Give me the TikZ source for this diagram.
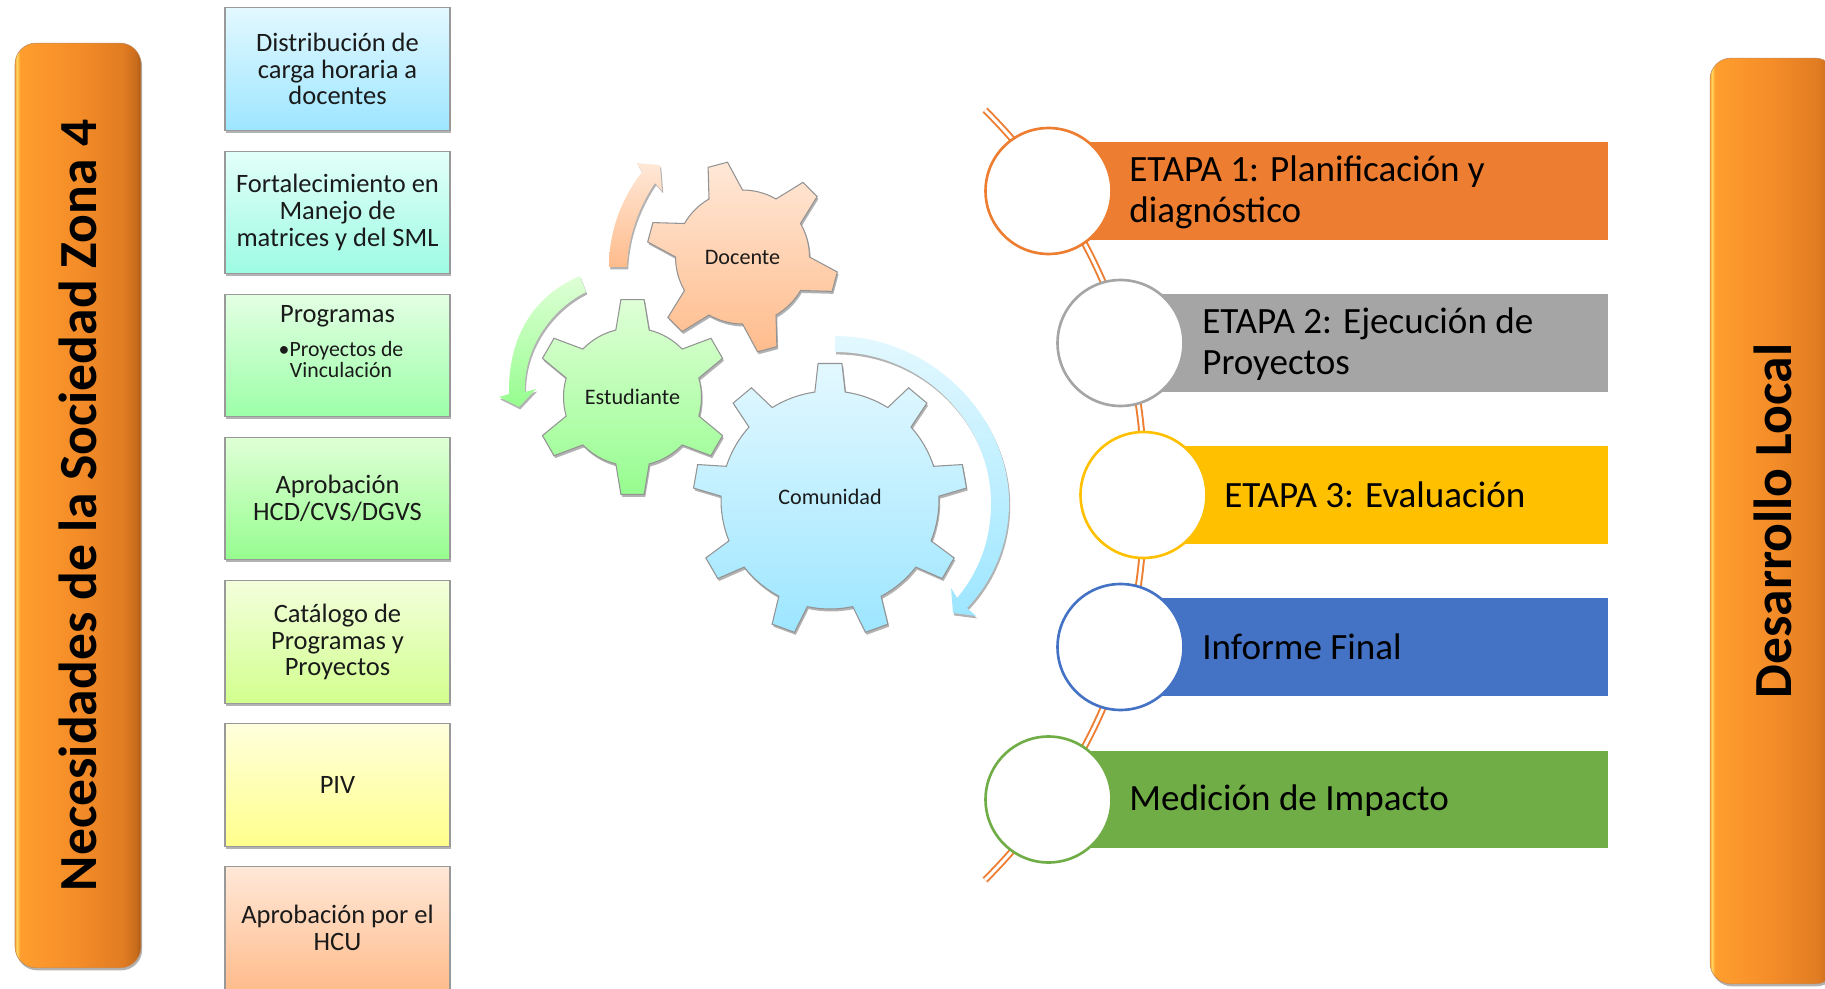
\documentclass[tikz,border=0pt]{standalone}
\usepackage{fontspec}
\setmainfont{Carlito}
\usetikzlibrary{shadows}
\definecolor{textonegro}{HTML}{1A1A1A}
\definecolor{lineanaranja}{HTML}{ED7D31}
\definecolor{etapagris}{HTML}{A5A5A5}
\definecolor{etapaoro}{HTML}{FFC000}
\definecolor{etapaazul}{HTML}{4472C4}
\definecolor{etapaverde}{HTML}{70AD47}
\definecolor{celesteA}{HTML}{E3F8FF}
\definecolor{celesteB}{HTML}{9DE6FF}
\definecolor{aguaA}{HTML}{E3FFF9}
\definecolor{aguaB}{HTML}{9DFBE3}
\definecolor{verdeA}{HTML}{E3FFE3}
\definecolor{verdeB}{HTML}{9CFFA8}
\definecolor{pastoA}{HTML}{DFFFD6}
\definecolor{pastoB}{HTML}{96FD8F}
\definecolor{limaA}{HTML}{F3FFDC}
\definecolor{limaB}{HTML}{D2FF8E}
\definecolor{amarilloA}{HTML}{FFFFDC}
\definecolor{amarilloB}{HTML}{FFFF8C}
\definecolor{duraznoA}{HTML}{FFE8D8}
\definecolor{duraznoB}{HTML}{FFBC8C}
\definecolor{narA}{HTML}{FFD860}
\definecolor{narB}{HTML}{FF9E2E}
\definecolor{narC}{HTML}{F48C28}
\definecolor{narD}{HTML}{E07C22}
\definecolor{narE}{HTML}{C96C1C}
\definecolor{narF}{HTML}{A85A18}
\pgfdeclarehorizontalshading{barranaranja}{100bp}{
  color(0bp)=(narB);
  color(25bp)=(narB);
  color(25.7bp)=(narA);
  color(27bp)=(narB);
  color(50bp)=(narC);
  color(68bp)=(narD);
  color(73bp)=(narE);
  color(75bp)=(narF);
  color(100bp)=(narF)
}
\tikzset{
  sombra/.style={drop shadow={shadow xshift=0.7pt,shadow yshift=-1.4pt,opacity=0.3,fill=black}},
  pasobox/.style={rectangle,draw=gray!80,line width=0.6pt,sombra,minimum width=4.5cm,minimum height=2.45cm,
    align=center,text=textonegro,inner sep=1pt,font=\fontsize{15.1}{15.3}\selectfont},
  pasotexto/.style={align=center,text=textonegro,inner sep=0pt,font=\fontsize{15.1}{15.3}\selectfont},
  barra/.style={rectangle,rounded corners=0.42cm,shading=barranaranja,sombra,draw=narF!70,line width=0.3pt,minimum width=2.52cm},
  titulo/.style={rotate=90,inner sep=0pt,text=black,font=\fontsize{30.5}{32}\bfseries\selectfont},
  geartexto/.style={inner sep=0pt,text=textonegro,font=\fontsize{12.6}{14}\selectfont},
  gearcuerpo/.style={draw=gray!85,line width=0.6pt,sombra},
  flecha/.style={draw=none,sombra},
  etapabar/.style={rectangle,inner sep=0pt,minimum height=1.95cm,minimum width=11.2cm},
  etapacirc/.style={circle,fill=white,line width=1.5pt,inner sep=0pt,minimum size=2.52cm},
  etapatexto/.style={anchor=west,align=left,inner sep=0pt,text=black,font=\fontsize{21.1}{23.2}\selectfont},
  doblelinea/.style={draw=lineanaranja,line width=1.1pt,double=white,double distance=1.7pt}
}
% teeth, offset, inner radius, outer radius, half angle at root, half angle at tip, style
\newcommand{\gear}[7]{
  \draw[#7] ({#2-#5}:#3)
    foreach \k [evaluate=\k as \ang using #2+(\k-1)*360/#1] in {1,...,#1} {
      -- ({\ang-#6}:#4) -- ({\ang+#6}:#4) -- ({\ang+#5}:#3)
      arc[start angle=\ang+#5,end angle=\ang+360/#1-#5,radius=#3]
    } -- cycle;
}

\begin{document}
\begin{tikzpicture}[x=0.02cm,y=-0.02cm]
  \useasboundingbox (0,0) rectangle (1825,989);

  % side bars
  \node[barra,minimum height=18.5cm] (barraizq) at (78,505.5) {};
  \node[titulo] (tituloizq) at (barraizq.center) {Necesidades de la Sociedad Zona 4};
  \node[barra,minimum height=18.52cm] (barrader) at (1773,521) {};
  \node[titulo] (tituloder) at (barrader.center) {Desarrollo Local};

  % steps on the left
  \node[pasobox,top color=celesteA,bottom color=celesteB] (carga) at (337.5,69) {Distribución de\\carga horaria a\\docentes};
  \node[pasobox,top color=aguaA,bottom color=aguaB] (fortalec) at (337.5,212.5) {Fortalecimiento en\\Manejo de\\matrices y del SML};
  \node[pasobox,top color=verdeA,bottom color=verdeB] (programas) at (337.5,355.5) {};
  \node[pasotexto] (progtitulo) at (337.5,316) {Programas};
  \node[pasotexto,font=\fontsize{12.4}{11.9}\selectfont] (proglista) at (341,359.5) {\textbullet{}Proyectos de\\Vinculación};
  \node[pasobox,top color=pastoA,bottom color=pastoB] (aprobacion) at (337.5,498.5) {Aprobación\\HCD/CVS/DGVS};
  \node[pasobox,top color=limaA,bottom color=limaB] (catalogo) at (337.5,642) {Catálogo de\\Programas y\\Proyectos};
  \node[pasobox,top color=amarilloA,bottom color=amarilloB] (piv) at (337.5,785) {PIV};
  \node[pasobox,top color=duraznoA,bottom color=duraznoB] (hcu) at (337.5,928) {Aprobación por el\\HCU};

  % curved arrows
  \path[flecha,top color=duraznoA,bottom color=duraznoB] (609,267)
    .. controls (609,230) and (622,198) .. (642,172) -- (637,163) -- (660,165) -- (662,191) -- (655,183)
    .. controls (640,205) and (628,235) .. (627,267) -- cycle;
  \path[flecha,top color=pastoA,bottom color=pastoB] (580,276)
    .. controls (535,295) and (508,335) .. (509,394) -- (499,397) -- (519,407) -- (536,389) -- (525,392)
    .. controls (523,350) and (550,310) .. (586,292) -- cycle;
  \path[flecha,top color=celesteA,bottom color=celesteB] (835,336)
    .. controls (930,336) and (1009,415) .. (1009,503) .. controls (1009,545) and (992,582) .. (967,608)
    -- (976,616) -- (953,613) -- (951,588) -- (957,598)
    .. controls (979,572) and (991,540) .. (991,503) .. controls (991,425) and (925,352) .. (835,352) -- cycle;

  % gears
  \begin{scope}[shift={(742.5,257)},y=0.02cm]
    \gear{6}{45}{67}{96}{15}{6}{gearcuerpo,top color=duraznoA,bottom color=duraznoB}
  \end{scope}
  \begin{scope}[shift={(632.5,397)},y=0.02cm]
    \gear{6}{30}{69}{98}{14}{6.8}{gearcuerpo,top color=pastoA,bottom color=pastoB}
  \end{scope}
  \begin{scope}[shift={(830,500)},y=0.02cm]
    \gear{9}{90}{109}{137}{8}{5}{gearcuerpo,top color=celesteA,bottom color=celesteB}
  \end{scope}
  \node[geartexto] (docente) at (742.5,257) {Docente};
  \node[geartexto] (estudiante) at (632.5,397) {Estudiante};
  \node[geartexto] (comunidad) at (830,497) {Comunidad};

  % line behind the circles
  \coordinate (lineaini) at (985,110);
  \coordinate (lineamed) at (1143,495);
  \coordinate (lineafin) at (985,880);
  \draw[doblelinea] (lineaini) .. controls (1080,205) and (1150,340) .. (lineamed)
    .. controls (1150,650) and (1080,785) .. (lineafin);

  % stages
  \foreach \nom/\cx/\cy/\col in {a/1048.5/191/lineanaranja,b/1120.5/343/etapagris,c/1143.5/495/etapaoro,d/1120.5/647/etapaazul,e/1048.5/799.5/etapaverde} {
    \pgfmathsetmacro{\barx}{(\cx+1608)/2}
    \pgfmathsetlengthmacro{\barw}{(1608-\cx)*0.02cm}
    \node[etapabar,fill=\col,minimum width=\barw] (barra\nom) at (\barx,\cy) {};
    \node[etapacirc,draw=\col] (circ\nom) at (\cx,\cy) {};
  }
  \node[etapatexto] (textoa) at (1129,192) {ETAPA 1: Planificación y\\diagnóstico};
  \node[etapatexto] (textob) at (1202,344) {ETAPA 2: Ejecución de\\Proyectos};
  \node[etapatexto] (textoc) at (1224,495) {ETAPA 3: Evaluación};
  \node[etapatexto] (textod) at (1202,646.5) {Informe Final};
  \node[etapatexto] (textoe) at (1129,801) {Medición de Impacto};
\end{tikzpicture}
\end{document}
